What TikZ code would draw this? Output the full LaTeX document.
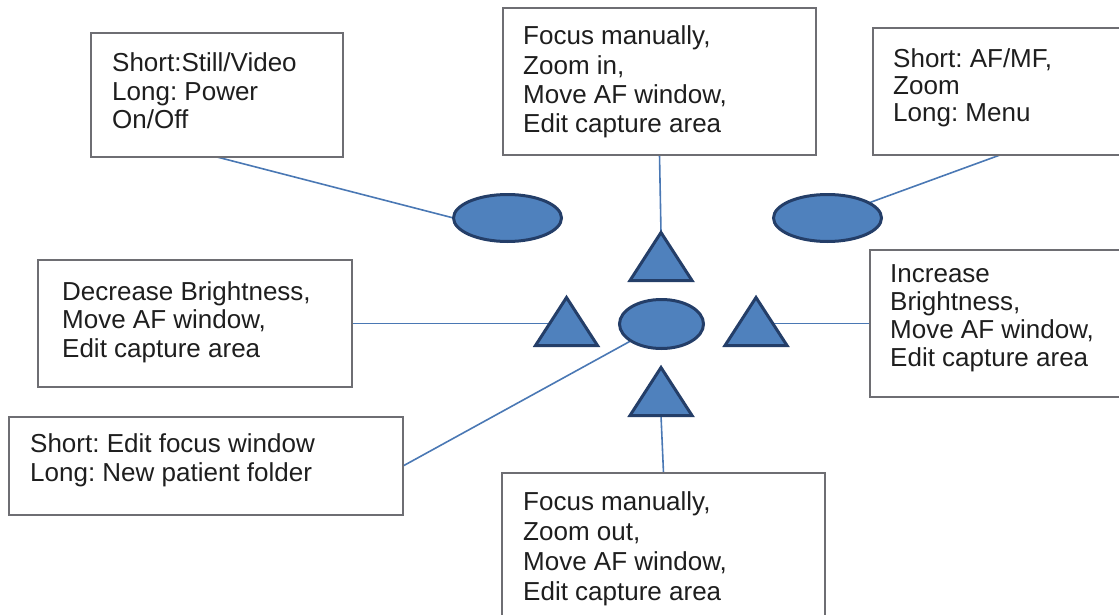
\documentclass[tikz,border=0pt]{standalone}
\usepackage{fontspec}
\setmainfont{Liberation Sans}
\usetikzlibrary{shapes.geometric,backgrounds}
\definecolor{btnfill}{RGB}{79,129,189}
\definecolor{btnline}{RGB}{36,62,104}
\definecolor{connc}{RGB}{74,120,180}
\definecolor{boxline}{RGB}{110,110,115}
\definecolor{txtcol}{RGB}{30,30,30}
\newcommand\tlines[2]{\vtop{\baselineskip=#1pt\relax #2}}
\frenchspacing
\begin{document}
\begin{tikzpicture}[x=1pt,y=-1pt,
  box/.style={draw=boxline, line width=1.6pt, inner sep=0pt, outer sep=0pt},
  lbl/.style={anchor=base west, inner sep=0pt, text=txtcol, font=\fontsize{26}{29}\selectfont},
  btn/.style={ellipse, fill=btnfill, draw=btnline, line width=3pt, inner sep=0pt, outer sep=0pt},
  tri/.style={isosceles triangle, isosceles triangle stretches, rotate=90, anchor=apex,
    minimum width=62, minimum height=48, fill=btnfill, draw=btnline, line width=3pt,
    inner sep=0pt, outer sep=0pt},
  conn/.style={draw=connc, line width=1.6pt}]
\useasboundingbox (0,0) rectangle (1119,615);

% boxes
\node[box, minimum width=252, minimum height=124] (b1) at (217,95) {};
\node[box, minimum width=313, minimum height=147] (t2) at (659.5,81.5) {};
\node[box, minimum width=254, minimum height=127] (b3) at (1000,91.5) {};
\node[box, minimum width=314, minimum height=127] (b4) at (195,323.5) {};
\node[box, minimum width=260, minimum height=147] (b5) at (1000,323.5) {};
\node[box, minimum width=394, minimum height=98] (b6) at (206,466) {};
\node[box, minimum width=323, minimum height=152] (b7) at (663.5,549) {};

% texts
\node[lbl] (x1) at (112,72) {\tlines{28.5}{\hbox{Short:Still/Video}\hbox{Long: Power}\hbox{On/Off}}};
\node[lbl] (x2) at (523,45) {\tlines{29.3}{\hbox{Focus manually,}\hbox{Zoom in,}\hbox{Move AF window,}\hbox{Edit capture area}}};
\node[lbl] (x3) at (893,68) {\tlines{27}{\hbox{Short: AF/MF,}\hbox{Zoom}\hbox{Long: Menu}}};
\node[lbl] (x4) at (62,300) {\tlines{28.5}{\hbox{Decrease Brightness,}\hbox{Move AF window,}\hbox{Edit capture area}}};
\node[lbl] (x5) at (890,282) {\tlines{28.3}{\hbox{Increase}\hbox{Brightness,}\hbox{Move AF window,}\hbox{Edit capture area}}};
\node[lbl] (x6) at (30,452) {\tlines{29}{\hbox{Short: Edit focus window}\hbox{Long: New patient folder}}};
\node[lbl] (x7) at (523,510) {\tlines{30}{\hbox{Focus manually,}\hbox{Zoom out,}\hbox{Move AF window,}\hbox{Edit capture area}}};

% buttons
\node[btn, minimum width=108, minimum height=47] (el) at (507.5,218) {};
\node[btn, minimum width=108, minimum height=47] (er) at (827.5,218) {};
\node[btn, minimum width=84, minimum height=49] (ec) at (661.5,324) {};
\node[tri] (tt) at (661,232.5) {};
\node[tri] (tl) at (566.5,297.5) {};
\node[tri] (tr) at (756,297.5) {};
\node[tri] (tb) at (661,367.5) {};

% connectors
\begin{scope}[on background layer]
\draw[conn] (b1.south) -- (el.west);
\draw[conn] (t2.south) -- (tt.apex);
\draw[conn] (b3.south) -- (er);
\draw[conn] (b4.east) -- (b4.east -| tl.apex);
\draw[conn] (b5.west) -- (b5.west -| tr.apex);
\draw[conn] (b6.east) -- (ec);
\draw[conn] (b7.north) -- (tb.lower side);
\end{scope}
\end{tikzpicture}
\end{document}
